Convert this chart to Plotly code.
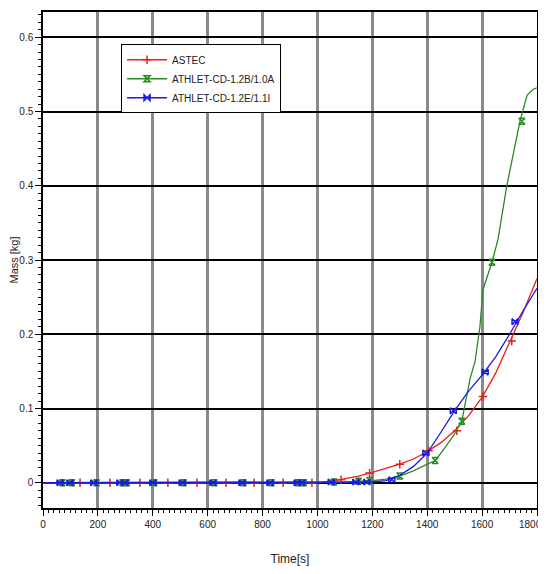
import plotly.graph_objects as go

# ---- data ----
astec_t = [0, 200, 400, 600, 800, 1000, 1050, 1100, 1150, 1200, 1250, 1300, 1350, 1400, 1450, 1500, 1550, 1600, 1650, 1700, 1750, 1800]
astec_m = [0, 0, 0, 0, 0, 0, 0.002, 0.005, 0.009, 0.014, 0.019, 0.025, 0.032, 0.042, 0.054, 0.07, 0.09, 0.115, 0.148, 0.188, 0.23, 0.275]
astec_mt = [135, 244, 353, 455, 561, 667, 769, 875, 980, 1086, 1190, 1300, 1405, 1508, 1603, 1708]
astec_mm = [0, 0, 0, 0, 0, 0, 0, 0, 0, 0.004, 0.013, 0.025, 0.043, 0.07, 0.116, 0.191]

a10_t = [0, 200, 400, 600, 800, 1000, 1100, 1200, 1250, 1300, 1350, 1400, 1430, 1460, 1495, 1526, 1556, 1574, 1592, 1603, 1636, 1658, 1690, 1738, 1764, 1786, 1800]
a10_m = [0, 0, 0, 0, 0, 0, 0.001, 0.003, 0.005, 0.009, 0.016, 0.025, 0.03, 0.045, 0.063, 0.083, 0.14, 0.163, 0.21, 0.26, 0.297, 0.328, 0.40, 0.487, 0.522, 0.53, 0.532]
a10_mt = [70, 105, 195, 290, 305, 405, 512, 624, 730, 832, 930, 950, 1060, 1150, 1190, 1300, 1429, 1526, 1636, 1745]
a10_mm = [0, 0, 0, 0, 0, 0, 0, 0, 0, 0, 0, 0, 0.001, 0.002, 0.003, 0.009, 0.03, 0.083, 0.297, 0.487]

a11_t = [0, 200, 400, 600, 800, 1000, 1100, 1200, 1250, 1300, 1350, 1400, 1450, 1500, 1550, 1600, 1650, 1700, 1750, 1800]
a11_m = [0, 0, 0, 0, 0, 0, 0.001, 0.001, 0.003, 0.01, 0.022, 0.04, 0.068, 0.097, 0.123, 0.145, 0.17, 0.2, 0.232, 0.262]
a11_mt = [62, 98, 185, 280, 298, 400, 507, 619, 725, 827, 926, 942, 1050, 1140, 1180, 1271, 1395, 1495, 1611, 1720]
a11_mm = [0, 0, 0, 0, 0, 0, 0, 0, 0, 0, 0, 0, 0.001, 0.001, 0.001, 0.004, 0.04, 0.097, 0.149, 0.217]

series_names = ["ASTEC", "ATHLET-CD-1.2B/1.0A", "ATHLET-CD-1.2E/1.1I"]
x_ticks = [0, 200, 400, 600, 800, 1000, 1200, 1400, 1600, 1800]
x_ticktext = ["0", "200", "400", "600", "800", "1000", "1200", "1400", "1600", "1800"]
y_ticks = [0, 0.1, 0.2, 0.3, 0.4, 0.5, 0.6]
y_ticktext = ["0", "0.1", "0.2", "0.3", "0.4", "0.5", "0.6"]

colors = ["#e8201c", "#2a8a22", "#1a1ae0"]
symbols = ["cross-thin-open", "hourglass-open", "bowtie-open"]

FONT = "Liberation Sans Narrow, Arial Narrow, Liberation Sans, Arial, sans-serif"

fig = go.Figure()
data = [(astec_t, astec_m, astec_mt, astec_mm), (a10_t, a10_m, a10_mt, a10_mm), (a11_t, a11_m, a11_mt, a11_mm)]
for i, (t, m, mt, mm) in enumerate(data):
    fig.add_trace(go.Scatter(x=t, y=m, mode="lines", line=dict(color=colors[i], width=1.3),
                             showlegend=False, hoverinfo="skip"))
    fig.add_trace(go.Scatter(x=mt, y=mm, mode="markers", name=series_names[i],
                             marker=dict(symbol=symbols[i], size=6, color=colors[i],
                                         line=dict(color=colors[i], width=1.5)),
                             showlegend=False))
    fig.add_trace(go.Scatter(x=[None], y=[None], mode="lines+markers", name=series_names[i],
                             line=dict(color=colors[i], width=1.5),
                             marker=dict(symbol=symbols[i], size=6, color=colors[i],
                                         line=dict(color=colors[i], width=1.5))))

# the last x tick label sits at the right edge; keep it fully visible
fig.add_annotation(x=x_ticks[-1], y=0, xref="x", yref="paper", yanchor="top", xanchor="right",
                   xshift=7, yshift=-9, text=x_ticktext[-1], showarrow=False,
                   font=dict(family=FONT, size=10, color="#222"))

# page body adds an 8px offset; figure size/margins compensate
fig.update_layout(
    width=538, height=566,
    margin=dict(l=35, r=9, t=4, b=66),
    paper_bgcolor="white", plot_bgcolor="white",
    font=dict(family=FONT, size=10, color="#222"),
    legend=dict(x=0.158, y=0.935, xanchor="left", yanchor="top",
                bgcolor="white", bordercolor="black", borderwidth=1,
                font=dict(size=10, family=FONT), itemwidth=40,
                tracegroupgap=0),
    xaxis=dict(range=[0, 1800], tickvals=x_ticks, ticktext=x_ticktext, automargin=False,
               showgrid=True, gridcolor="#8a8a8a", gridwidth=3,
               showline=True, linecolor="black", linewidth=1.5, mirror=True,
               ticks="outside", ticklen=6, tickcolor="black", tickwidth=1,
               minor=dict(dtick=20, ticks="outside", ticklen=3, tickcolor="black", showgrid=False),
               zeroline=False,
               title=dict(text="Time[s]", font=dict(size=12, family=FONT), standoff=26)),
    yaxis=dict(range=[-0.034, 0.634], tickvals=y_ticks, ticktext=y_ticktext, automargin=False,
               showgrid=True, gridcolor="black", gridwidth=1.5,
               showline=True, linecolor="black", linewidth=1.5, mirror=True,
               ticks="outside", ticklen=6, tickcolor="black", tickwidth=1,
               minor=dict(dtick=0.01, tick0=0, ticks="outside", ticklen=3, tickcolor="black", showgrid=False),
               zeroline=True, zerolinecolor="black", zerolinewidth=1.5,
               title=dict(text="Mass [kg]", font=dict(size=11, family=FONT), standoff=2)),
)

fig.write_html("out.html")
